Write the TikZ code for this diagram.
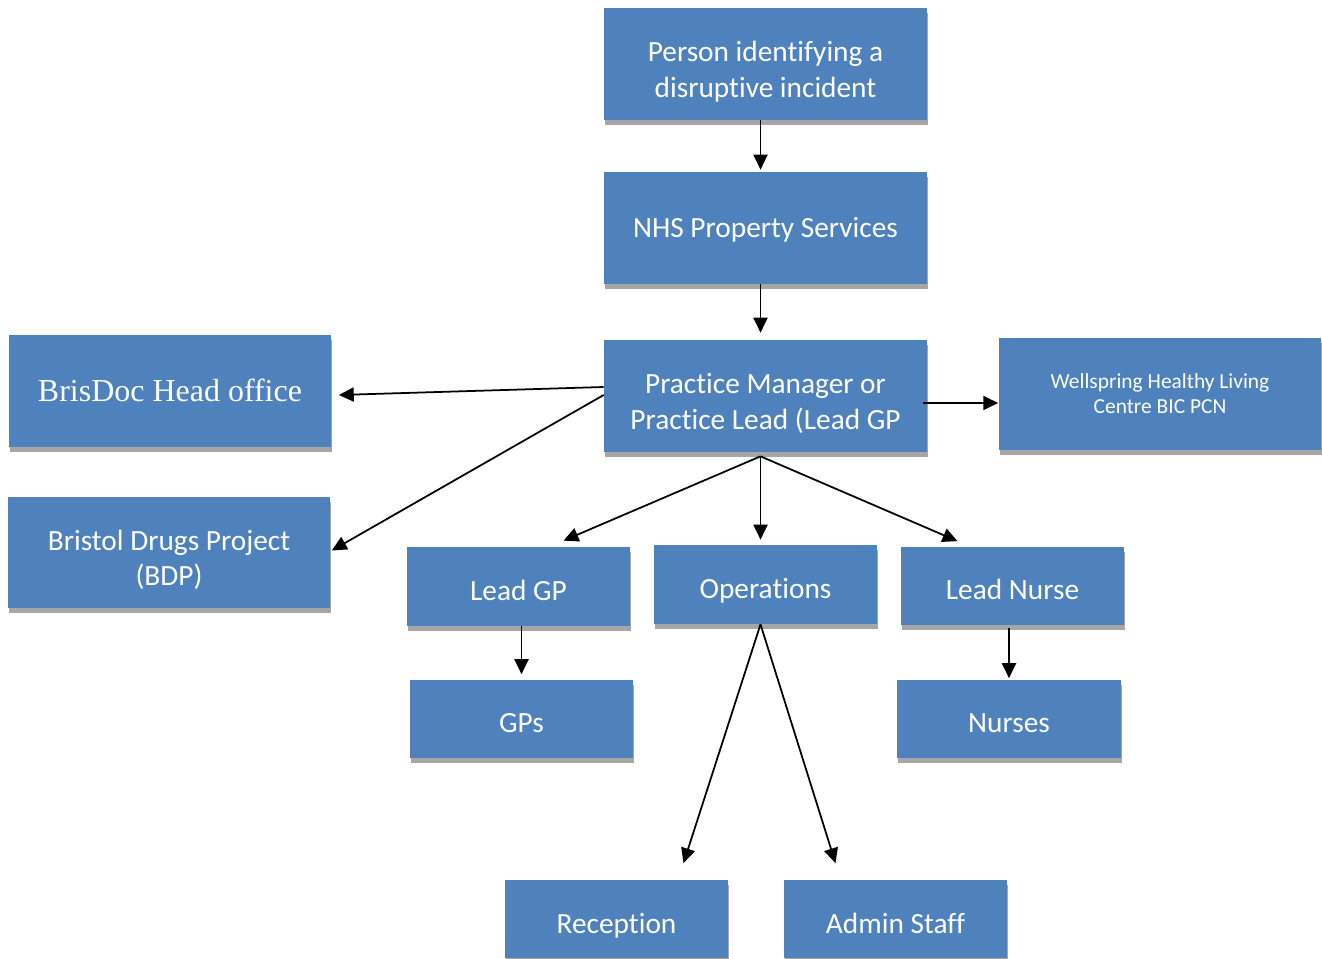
\documentclass[tikz,border=0pt]{standalone}
\usepackage{fontspec}
\setmainfont{Carlito}[Ligatures=NoCommon]
\newfontfamily\timesfont{Liberation Serif}
\usepackage{tikz}
\usetikzlibrary{calc,arrows.meta,shadows}
\definecolor{boxblue}{HTML}{4F81BD}
\definecolor{shadegray}{HTML}{A6A6A6}

\begin{document}
\begin{tikzpicture}[x=0.02cm,y=-0.02cm,
    box/.style={fill=boxblue,text=white,align=center,inner sep=0pt,
      general shadow={fill=shadegray,shadow xshift=0.02cm,shadow yshift=-0.1cm},
      font=\fontsize{16.7}{20.4}\selectfont,text depth=0pt},
    bigbox/.style={box,minimum width=6.46cm,minimum height=2.24cm,text height=0.38cm},
    twoline/.style={bigbox,text height=1.34cm},
    smallbox/.style={box,minimum width=4.48cm,minimum height=1.58cm,text height=0.56cm},
    arr/.style={line width=1pt,-{Triangle[length=8.5pt,width=8pt]}}]
      \useasboundingbox (0,0) rectangle (1322,959);
      \draw (765.5,64) node[twoline] (person) {Person identifying a\\disruptive incident};
      \draw (765.5,228) node[bigbox] (nhs) {NHS Property Services};
      \draw (765.5,396) node[twoline] (pm) {Practice Manager or\\Practice Lead (Lead GP};
      \draw (170,391) node[bigbox,text height=0.42cm,font=\timesfont\fontsize{18.2}{22}\selectfont] (brisdoc) {BrisDoc Head office};
      \draw (169,552.5) node[twoline] (bdp) {Bristol Drugs Project\\(BDP)};
      \draw (1160,394) node[bigbox,text height=0.8cm,font=\fontsize{12.2}{14.7}\selectfont] (well) {Wellspring Healthy Living\\Centre BIC PCN};
      \draw (518.5,586.5) node[smallbox] (leadgp) {Lead GP};
      \draw (765.5,584.5) node[smallbox] (ops) {Operations};
      \draw (1012.5,586) node[smallbox] (leadnurse) {Lead Nurse};
      \draw (521.5,719) node[smallbox] (gps) {GPs};
      \draw (1009,719) node[smallbox] (nurses) {Nurses};
      \draw (616.5,919) node[smallbox] (reception) {Reception};
      \draw (895.5,919) node[smallbox] (admin) {Admin Staff};

      \coordinate (pmfoot) at ($(pm.south)+(-5,4)$);
      \coordinate (opsfoot) at ($(ops.south)+(-5,0)$);

      \draw[arr] ($(person.south)+(-5,0)$) -- ($(nhs.north)+(-5,-2)$);
      \draw[arr] ($(nhs.south)+(-5,0)$) -- ($(pm.north)+(-5,-7)$);
      \draw[arr] ($(pm.west)+(0,-9)$) -- ($(brisdoc.east)+(7,4)$);
      \draw[arr] ($(pm.west)+(0,-1)$) -- ($(bdp.east)+(1,-2)$);
      \draw[arr] ($(pm.east)+(-4,7)$) -- ($(well.west)+(0,9)$);
      \draw[arr] (pmfoot) -- ($(leadgp.north)+(45,-6)$);
      \draw[arr] (pmfoot) -- ($(ops.north)+(-5,-5)$);
      \draw[arr] (pmfoot) -- ($(leadnurse.north)+(-55,-5)$);
      \draw[arr] ($(leadgp.south)+(3,0)$) -- ($(gps.north)+(0,-5)$);
      \draw[arr] ($(leadnurse.south)+(-3.5,2)$) -- ($(nurses.north)+(0,-1)$);
      \draw[arr] (opsfoot) -- ($(reception.north)+(67,-16)$);
      \draw[arr] (opsfoot) -- ($(admin.north)+(-60,-16)$);
\end{tikzpicture}
\end{document}
